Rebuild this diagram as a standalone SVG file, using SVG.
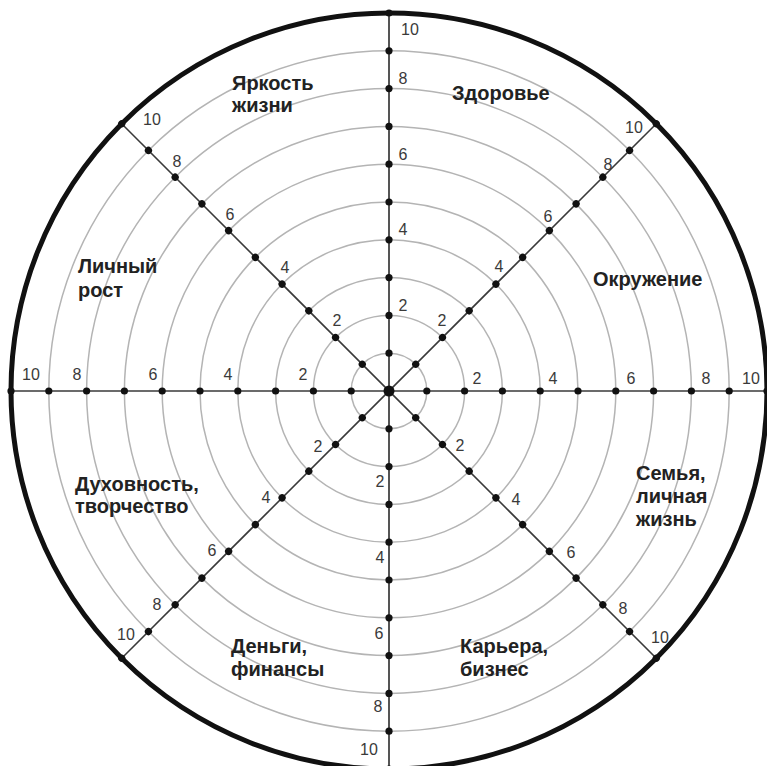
<svg xmlns="http://www.w3.org/2000/svg" xmlns:xlink="http://www.w3.org/1999/xlink" width="767" height="766" viewBox="0 0 767 766">
<style>
.ring{fill:none;stroke:#b4b4b4;stroke-width:1.5}
.outer{fill:none;stroke:#111;stroke-width:5}
.axis{stroke:#3a3a3a;stroke-width:1.6}
.vaxis{stroke:#555;stroke-width:2}
.dot{fill:#111}
.num{font-family:"Liberation Sans",Arial,sans-serif;font-size:16px;fill:#3a3a3a;text-anchor:middle}
.cat{font-family:"Liberation Sans",Arial,sans-serif;font-size:20px;font-weight:bold;fill:#222}
</style>
<defs>
<g id="spoke">
<circle class="dot" cx="426.8" cy="391" r="3.6"/>
<circle class="dot" cx="464.6" cy="391" r="3.6"/>
<circle class="dot" cx="502.4" cy="391" r="3.6"/>
<circle class="dot" cx="540.2" cy="391" r="3.6"/>
<circle class="dot" cx="578" cy="391" r="3.6"/>
<circle class="dot" cx="615.8" cy="391" r="3.6"/>
<circle class="dot" cx="653.6" cy="391" r="3.6"/>
<circle class="dot" cx="691.4" cy="391" r="3.6"/>
<circle class="dot" cx="729.2" cy="391" r="3.6"/>
<circle class="dot" cx="767" cy="391" r="3.6"/>
</g>
</defs>
<rect width="767" height="766" fill="#fff"/>
<g id="rings">
<circle class="ring" cx="389" cy="391" r="37.8"/>
<circle class="ring" cx="389" cy="391" r="75.6"/>
<circle class="ring" cx="389" cy="391" r="113.4"/>
<circle class="ring" cx="389" cy="391" r="151.2"/>
<circle class="ring" cx="389" cy="391" r="189"/>
<circle class="ring" cx="389" cy="391" r="226.8"/>
<circle class="ring" cx="389" cy="391" r="264.6"/>
<circle class="ring" cx="389" cy="391" r="302.4"/>
<circle class="ring" cx="389" cy="391" r="340.2"/>
</g>
<g id="axes">
<line class="vaxis" x1="389" y1="14" x2="389" y2="766"/>
<line class="axis" x1="12" y1="391" x2="767" y2="391"/>
<line class="axis" x1="121.7" y1="123.7" x2="656.3" y2="658.3"/>
<line class="axis" x1="656.3" y1="123.7" x2="121.7" y2="658.3"/>
</g>
<circle class="outer" cx="389" cy="391" r="378"/>
<g id="dots">
<use xlink:href="#spoke"/>
<use xlink:href="#spoke" transform="rotate(45 389 391)"/>
<use xlink:href="#spoke" transform="rotate(90 389 391)"/>
<use xlink:href="#spoke" transform="rotate(135 389 391)"/>
<use xlink:href="#spoke" transform="rotate(180 389 391)"/>
<use xlink:href="#spoke" transform="rotate(225 389 391)"/>
<use xlink:href="#spoke" transform="rotate(270 389 391)"/>
<use xlink:href="#spoke" transform="rotate(315 389 391)"/>
<circle class="dot" cx="389" cy="391" r="5.5"/>
</g>
<g id="scale-right">
<text class="num" x="477" y="384">2</text>
<text class="num" x="553" y="384">4</text>
<text class="num" x="631" y="384">6</text>
<text class="num" x="706" y="384">8</text>
<text class="num" x="751" y="384">10</text>
</g>
<g id="scale-left">
<text class="num" x="303" y="380">2</text>
<text class="num" x="228" y="380">4</text>
<text class="num" x="153" y="380">6</text>
<text class="num" x="77" y="380">8</text>
<text class="num" x="31" y="380">10</text>
</g>
<g id="scale-top">
<text class="num" x="403" y="311">2</text>
<text class="num" x="403" y="235">4</text>
<text class="num" x="403" y="160">6</text>
<text class="num" x="403" y="84">8</text>
<text class="num" x="410" y="35">10</text>
</g>
<g id="scale-bottom">
<text class="num" x="380" y="487">2</text>
<text class="num" x="380" y="563">4</text>
<text class="num" x="379" y="639">6</text>
<text class="num" x="378" y="712">8</text>
<text class="num" x="369" y="755">10</text>
</g>
<g id="scale-ul">
<text class="num" x="337" y="326">2</text>
<text class="num" x="285" y="273">4</text>
<text class="num" x="230" y="220">6</text>
<text class="num" x="177" y="167">8</text>
<text class="num" x="152" y="125">10</text>
</g>
<g id="scale-ur">
<text class="num" x="442" y="326">2</text>
<text class="num" x="499" y="272">4</text>
<text class="num" x="548" y="222">6</text>
<text class="num" x="608" y="170">8</text>
<text class="num" x="634" y="133">10</text>
</g>
<g id="scale-ll">
<text class="num" x="318" y="452">2</text>
<text class="num" x="266" y="503">4</text>
<text class="num" x="212" y="556">6</text>
<text class="num" x="157" y="610">8</text>
<text class="num" x="126" y="640">10</text>
</g>
<g id="scale-lr">
<text class="num" x="460" y="451">2</text>
<text class="num" x="516" y="505">4</text>
<text class="num" x="571" y="558">6</text>
<text class="num" x="623" y="614">8</text>
<text class="num" x="660" y="643">10</text>
</g>
<g id="sector-brightness"><text class="cat" x="232" y="90">Яркость</text><text class="cat" x="232" y="112">жизни</text></g>
<g id="sector-health"><text class="cat" x="452" y="100">Здоровье</text></g>
<g id="sector-growth"><text class="cat" x="78" y="273">Личный</text><text class="cat" x="78" y="297">рост</text></g>
<g id="sector-environment"><text class="cat" x="593" y="286">Окружение</text></g>
<g id="sector-spirit"><text class="cat" x="75" y="491">Духовность,</text><text class="cat" x="75" y="513">творчество</text></g>
<g id="sector-family"><text class="cat" x="636" y="480">Семья,</text><text class="cat" x="636" y="503">личная</text><text class="cat" x="636" y="526">жизнь</text></g>
<g id="sector-money"><text class="cat" x="231" y="653">Деньги,</text><text class="cat" x="231" y="676">финансы</text></g>
<g id="sector-career"><text class="cat" x="460" y="653">Карьера,</text><text class="cat" x="460" y="676">бизнес</text></g>
</svg>
